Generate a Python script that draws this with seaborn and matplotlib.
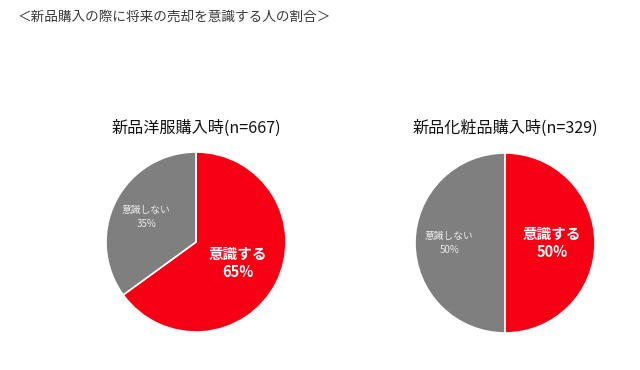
import numpy as np
import matplotlib
matplotlib.use("Agg")
import matplotlib.pyplot as plt
import seaborn as sns

sns.set_style("white")
plt.rcParams['font.family'] = ['Noto Sans CJK JP', 'DejaVu Sans']

header = "＜新品購入の際に将来の売却を意識する人の割合＞"
titles = ["新品洋服購入時(n=667)", "新品化粧品購入時(n=329)"]
categories = ["意識する", "意識しない"]
values = [[65, 35], [50, 50]]
colors = ["#f80014", "#7f7f7f"]

W, H = 640, 370
fig = plt.figure(figsize=(W / 100, H / 100), dpi=100)
fig.patch.set_facecolor("white")

centers = [(196, 242), (505, 243)]
R = 90
for i, (cx, cy) in enumerate(centers):
    ax = fig.add_axes([(cx - R) / W, (H - cy - R) / H, 2 * R / W, 2 * R / H])
    wedges, _ = ax.pie(values[i], colors=colors, startangle=90, counterclock=False,
                       wedgeprops=dict(edgecolor="white", linewidth=1.2), radius=1.0)
    ax.set_xlim(-1.0, 1.0)
    ax.set_ylim(-1.0, 1.0)
    ax.set_aspect("equal")
    ax.axis("off")
    for j, w in enumerate(wedges):
        ang = np.deg2rad((w.theta1 + w.theta2) / 2)
        r = 0.52 if j == 0 else 0.62
        x, y = r * np.cos(ang), r * np.sin(ang)
        if j == 0:
            ax.text(x, y, f"{categories[j]}\n{values[i][j]}%", ha="center", va="center",
                    color="white", fontsize=10.5, fontweight="bold", linespacing=1.15)
        else:
            ax.text(x, y, f"{categories[j]}\n{values[i][j]}%", ha="center", va="center",
                    color="#ececec", fontsize=7, linespacing=1.5)
    fig.text(cx / W, (H - 128) / H, titles[i], ha="center", va="center",
             fontsize=11.6, color="#111111")

fig.text(18 / W, (H - 17) / H, header, ha="left", va="center", fontsize=9.8, color="#3a3a3a")

fig.savefig("out.png", dpi=100)
